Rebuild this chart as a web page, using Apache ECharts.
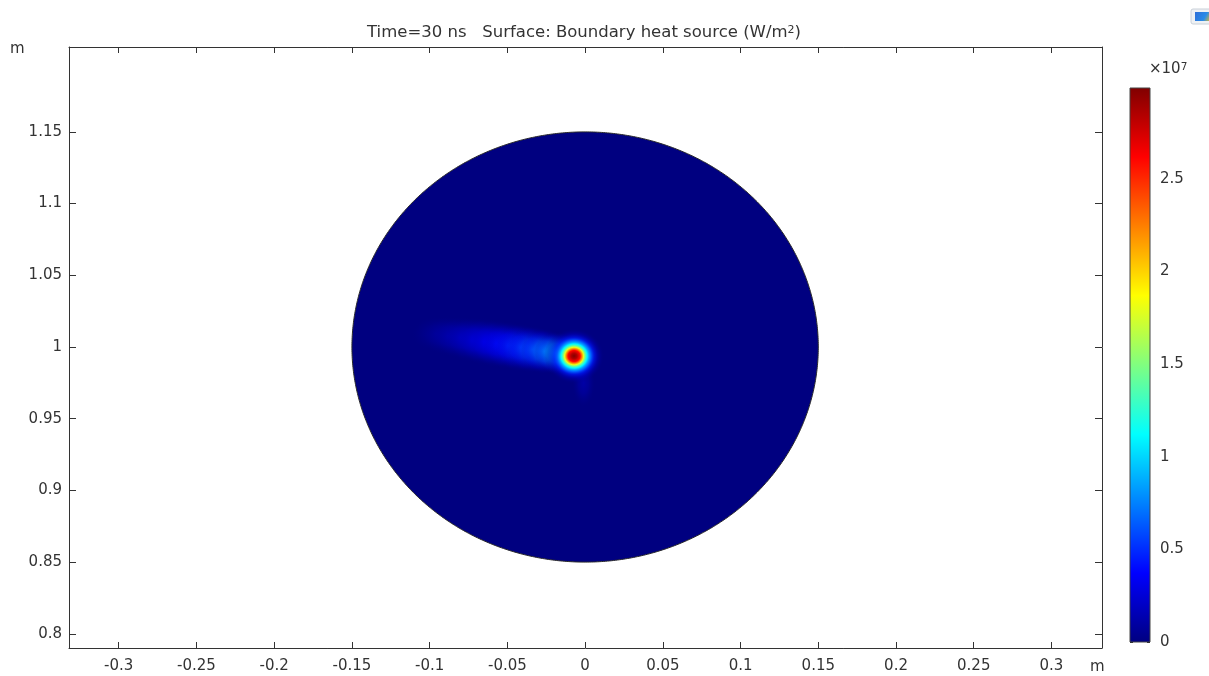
<!DOCTYPE html>
<html><head><meta charset="utf-8">
<script src="https://cdn.jsdelivr.net/npm/echarts@6/dist/echarts.min.js"></script>
<style>html,body{margin:0;padding:0;background:#fff}#c{width:1209px;height:676px}</style>
</head><body><div id="c"></div>
<script>
// ---- data ----
const xTicks = [-0.3,-0.25,-0.2,-0.15,-0.1,-0.05,0,0.05,0.1,0.15,0.2,0.25,0.3];
const yTicks = [0.8,0.85,0.9,0.95,1,1.05,1.1,1.15];
const cbTicks = [0,0.5,1,1.5,2,2.5];          // colour bar ticks (x10^7 W/m^2)
const xRange = [-0.332, 0.3325];
const yRange = [0.7901, 1.2092];
const cbMax = 2.99;                            // x10^7 W/m^2
const disk = [0, 1, 0.15];                     // centre x, centre y, radius (m)
const spotCenter = [-0.0071, 0.9937];          // hot spot centre (m)
const spotRadius = [0, 0.0019, 0.0039, 0.0051, 0.0061, 0.0071, 0.0084, 0.0096, 0.0109, 0.0129, 0.0154, 0.0193];
const spotValue  = [2.97, 2.85, 2.6, 2.2, 1.8, 1.45, 1.1, 0.85, 0.65, 0.45, 0.25, 0];
// trailing tail sampled along its centre line (far end first), plus a faint streak below the spot
const tailX       = [-0.0958, -0.0881, -0.0804, -0.0727, -0.0650, -0.0572, -0.0495, -0.0418, -0.0341, -0.0264, -0.0187, -0.0010];
const tailY       = [1.0091, 1.0077, 1.0064, 1.0051, 1.0038, 1.0024, 1.0011, 0.9997, 0.9984, 0.9971, 0.9958, 0.9750];
const tailHalfLen = [0.0160, 0.0160, 0.0160, 0.0160, 0.0160, 0.0160, 0.0160, 0.0160, 0.0160, 0.0150, 0.0140, 0.0075];
const tailHalfWid = [0.0125, 0.0140, 0.0150, 0.0160, 0.0167, 0.0170, 0.0170, 0.0170, 0.0165, 0.0160, 0.0150, 0.0170];
const tailPeak    = [0.08, 0.13, 0.19, 0.26, 0.33, 0.40, 0.47, 0.55, 0.64, 0.75, 0.95, 0.15];

// ---- styling ----
const jet = ['#000080','#0000ff','#0080ff','#00ffff','#80ff80','#ffff00','#ff8000','#ff0000','#800000'];
const FONT = 'DejaVu Sans';
const AX = '#333';
function hex(h){return [parseInt(h.substr(1,2),16),parseInt(h.substr(3,2),16),parseInt(h.substr(5,2),16)];}
function jetColor(v, a){
  let t = Math.max(0, Math.min(1, v / cbMax)) * (jet.length - 1);
  const i = Math.min(jet.length - 2, Math.floor(t)); const f = t - i;
  const c0 = hex(jet[i]), c1 = hex(jet[i+1]);
  const r = Math.round(c0[0]+(c1[0]-c0[0])*f), g = Math.round(c0[1]+(c1[1]-c0[1])*f), b = Math.round(c0[2]+(c1[2]-c0[2])*f);
  return 'rgba('+r+','+g+','+b+','+(a==null?1:a)+')';
}
const fmt = v => String(v);

const chart = echarts.init(document.getElementById('c'), null, {renderer:'canvas'});
const grid0 = {left:69, top:47, width:1033, height:601, show:false};
const grid1 = {left:1130, top:88, width:20, height:554, show:false};
const axLine = {show:true, onZero:false, lineStyle:{color:AX, width:1}};
const labelStyle = {fontFamily:FONT, fontSize:15, color:AX};

chart.setOption({
  animation:false,
  backgroundColor:'#fff',
  grid:[grid0, grid1],
  xAxis:[
    {type:'value', gridIndex:0, min:xRange[0], max:xRange[1], position:'bottom',
     axisLine:axLine, splitLine:{show:false},
     axisTick:{show:true, inside:true, length:6, customValues:xTicks, lineStyle:{color:AX}},
     axisLabel:Object.assign({customValues:xTicks, formatter:fmt, margin:11}, labelStyle)},
    {type:'value', gridIndex:0, min:xRange[0], max:xRange[1], position:'top',
     axisLine:axLine, splitLine:{show:false},
     axisTick:{show:true, inside:true, length:6, customValues:xTicks, lineStyle:{color:AX}},
     axisLabel:{show:false}},
    {type:'value', gridIndex:1, min:0, max:1, show:false}
  ],
  yAxis:[
    {type:'value', gridIndex:0, min:yRange[0], max:yRange[1], position:'left',
     axisLine:axLine, splitLine:{show:false},
     axisTick:{show:true, inside:true, length:7, customValues:yTicks, lineStyle:{color:AX}},
     axisLabel:Object.assign({customValues:yTicks, formatter:fmt, margin:7}, labelStyle)},
    {type:'value', gridIndex:0, min:yRange[0], max:yRange[1], position:'right',
     axisLine:axLine, splitLine:{show:false},
     axisTick:{show:true, inside:true, length:7, customValues:yTicks, lineStyle:{color:AX}},
     axisLabel:{show:false}},
    {type:'value', gridIndex:1, min:0, max:cbMax, position:'right',
     axisLine:{show:false, onZero:false}, splitLine:{show:false},
     axisTick:{show:true, inside:true, length:3, customValues:cbTicks, lineStyle:{color:'#222'}},
     axisLabel:Object.assign({customValues:cbTicks, formatter:fmt, margin:10}, labelStyle)},
    {type:'value', gridIndex:1, min:0, max:cbMax, position:'left',
     axisLine:{show:false, onZero:false}, splitLine:{show:false},
     axisTick:{show:true, inside:true, length:3, customValues:cbTicks, lineStyle:{color:'#222'}},
     axisLabel:{show:false}}
  ],
  series:[
    { // disk (value 0 everywhere except the hot spot)
      type:'custom', xAxisIndex:0, yAxisIndex:0, z:1,
      data:[disk],
      renderItem:function(p, api){
        const cx = api.value(0), cy = api.value(1), r = api.value(2);
        const pts = [];
        for (let k = 0; k < 720; k++){
          const a = k / 720 * Math.PI * 2;
          pts.push(api.coord([cx + r*Math.cos(a), cy + r*Math.sin(a)]));
        }
        return {type:'polygon', shape:{points:pts}, style:{fill:jetColor(0), stroke:'#2a2a2a', lineWidth:1}};
      }
    },
    { // tail of the heat source
      type:'custom', xAxisIndex:0, yAxisIndex:0, z:2,
      data:tailX.map((x,i)=>[x, tailY[i], tailHalfLen[i], tailHalfWid[i], tailPeak[i]]),
      renderItem:function(p, api){
        const c = api.coord([api.value(0), api.value(1)]);
        const s = api.size([api.value(2), api.value(3)]);
        const pk = api.value(4);
        const stops = [
          {offset:0, color:jetColor(pk, 0.75)},
          {offset:0.45, color:jetColor(pk*0.85, 0.5)},
          {offset:0.8, color:jetColor(pk*0.5, 0.15)},
          {offset:1, color:jetColor(0, 0)}
        ];
        return {type:'circle', x:c[0], y:c[1], scaleX:s[0], scaleY:s[1], shape:{cx:0, cy:0, r:1},
                style:{fill:new echarts.graphic.RadialGradient(0.5,0.5,0.5,stops)}};
      }
    },
    { // hot spot
      type:'custom', xAxisIndex:0, yAxisIndex:0, z:3,
      data:[spotCenter],
      renderItem:function(p, api){
        const c = api.coord([api.value(0), api.value(1)]);
        const rmax = spotRadius[spotRadius.length-1];
        const s = api.size([rmax, rmax]);
        const stops = spotRadius.map((r,i)=>{
          const v = spotValue[i];
          return {offset:r/rmax, color:jetColor(v, v >= 0.65 ? 1 : v/0.65)};
        });
        return {type:'circle', x:c[0], y:c[1], scaleX:s[0], scaleY:s[1], shape:{cx:0, cy:0, r:1},
                style:{fill:new echarts.graphic.RadialGradient(0.5,0.5,0.5,stops)}};
      }
    },
    { // colour bar
      type:'custom', xAxisIndex:2, yAxisIndex:2, z:1,
      data:[[0, cbMax]],
      renderItem:function(p, api){
        const a = api.coord([0, 0]), b = api.coord([1, api.value(1)]);
        return {type:'rect', shape:{x:a[0], y:b[1], width:b[0]-a[0], height:a[1]-b[1]},
                style:{fill:new echarts.graphic.LinearGradient(0,1,0,0, jet.map((c,i)=>({offset:i/(jet.length-1), color:c}))),
                       stroke:'#444', lineWidth:1}};
      }
    }
  ],
  graphic:[
    {type:'text', x:584, y:33, style:{text:'{a|Time=30 ns   Surface: Boundary heat source (W/m}{s|2}{a|)}',
      rich:{a:{fontFamily:FONT, fontSize:16.5, fill:'#333', verticalAlign:'bottom'}, s:{fontFamily:FONT, fontSize:11, fill:'#333', verticalAlign:'top'}},
      align:'center', verticalAlign:'middle'}},
    {type:'text', x:10, y:49, style:{text:'m', font:'15px "DejaVu Sans"', fill:'#333', align:'left', verticalAlign:'middle'}},
    {type:'text', x:1090, y:667, style:{text:'m', font:'15px "DejaVu Sans"', fill:'#333', align:'left', verticalAlign:'middle'}},
    {type:'text', x:1149, y:69, style:{text:'{a|×10}{s|7}',
      rich:{a:{fontFamily:FONT, fontSize:15, fill:'#333', verticalAlign:'bottom'}, s:{fontFamily:FONT, fontSize:10.5, fill:'#333', verticalAlign:'top'}},
      align:'left', verticalAlign:'middle'}},
    {type:'group', x:1191, y:9, children:[
      {type:'rect', shape:{x:0, y:0, width:20, height:15, r:2}, style:{fill:'#eef1f4', stroke:'#c9d0d8', lineWidth:1}},
      {type:'rect', shape:{x:4, y:3, width:16, height:9},
       style:{fill:new echarts.graphic.LinearGradient(0,0,1,1,[{offset:0,color:'#2f6fd8'},{offset:0.6,color:'#2a8be8'},{offset:1,color:'#f2c21a'}])}}
    ]}
  ]
});
</script>
</body></html>
